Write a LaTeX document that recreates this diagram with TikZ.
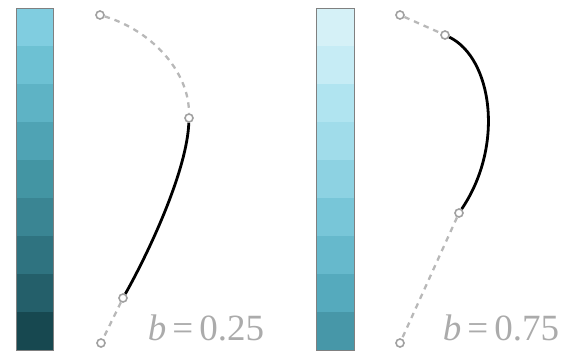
\documentclass[tikz,border=0pt]{standalone}
\usepackage{fontspec}
\newfontfamily\labfont{Liberation Serif}
\definecolor{ptgray}{HTML}{A0A0A0}
\definecolor{dashgray}{HTML}{B8B8B8}
\definecolor{labgray}{HTML}{ABABAB}
\begin{document}
\begin{tikzpicture}[x=1pt,y=-1pt,
  ctrl/.style={circle,draw=ptgray,fill=white,line width=1.6pt,inner sep=0pt,minimum size=8pt},
  guide/.style={dashgray,line width=2.3pt,dash pattern=on 5.5pt off 5pt},
  seg/.style={black,line width=2.8pt},
  lbl/.style={labgray,anchor=base,font=\labfont\fontsize{37}{40}\selectfont}]
  \useasboundingbox (0,0) rectangle (566,357);
  % colour bars
  \foreach \i/\c in {0/80CDE0,1/6DC1D3,2/5EB3C5,3/4FA3B4,4/4395A3,5/3A8593,6/2F7380,7/245F6A,8/174850}
    {\definecolor{cell}{HTML}{\c} \fill[cell] (16,8+38*\i) rectangle (53,46+38*\i);}
  \foreach \i/\c in {0/D5F1F7,1/C6ECF5,2/B0E4F0,3/A0DCEA,4/8DD2E2,5/78C6D8,6/66B9CC,7/55AABD,8/4797A8}
    {\definecolor{cell}{HTML}{\c} \fill[cell] (316,8+38*\i) rectangle (354,46+38*\i);}
  \draw[gray,line width=0.8pt] (16,8) rectangle (53,350);
  \draw[gray,line width=0.8pt] (316,8) rectangle (354,350);
  % b = 0.25
  \node[ctrl] (a0) at (100,15) {};
  \node[ctrl] (a1) at (189,118) {};
  \node[ctrl] (a2) at (123,298) {};
  \node[ctrl] (a3) at (101,343) {};
  \draw[guide] (a0) .. controls (150,30) and (189,70) .. (a1);
  \draw[seg] (a1) .. controls (187,170) and (150,250) .. (a2);
  \draw[guide] (a2) -- (a3);
  % b = 0.75
  \node[ctrl] (c0) at (400,15) {};
  \node[ctrl] (c1) at (445,35) {};
  \node[ctrl] (c2) at (459,213) {};
  \node[ctrl] (c3) at (400,343) {};
  \draw[guide] (c0) -- (c1);
  \draw[seg] (c1) .. controls (492,58) and (505,145) .. (c2);
  \draw[guide] (c2) -- (c3);
  \node[lbl] (lab1) at (206,340) {\textit{b}\,=\,0.25};
  \node[lbl] (lab2) at (501,340) {\textit{b}\,=\,0.75};
\end{tikzpicture}
\end{document}
